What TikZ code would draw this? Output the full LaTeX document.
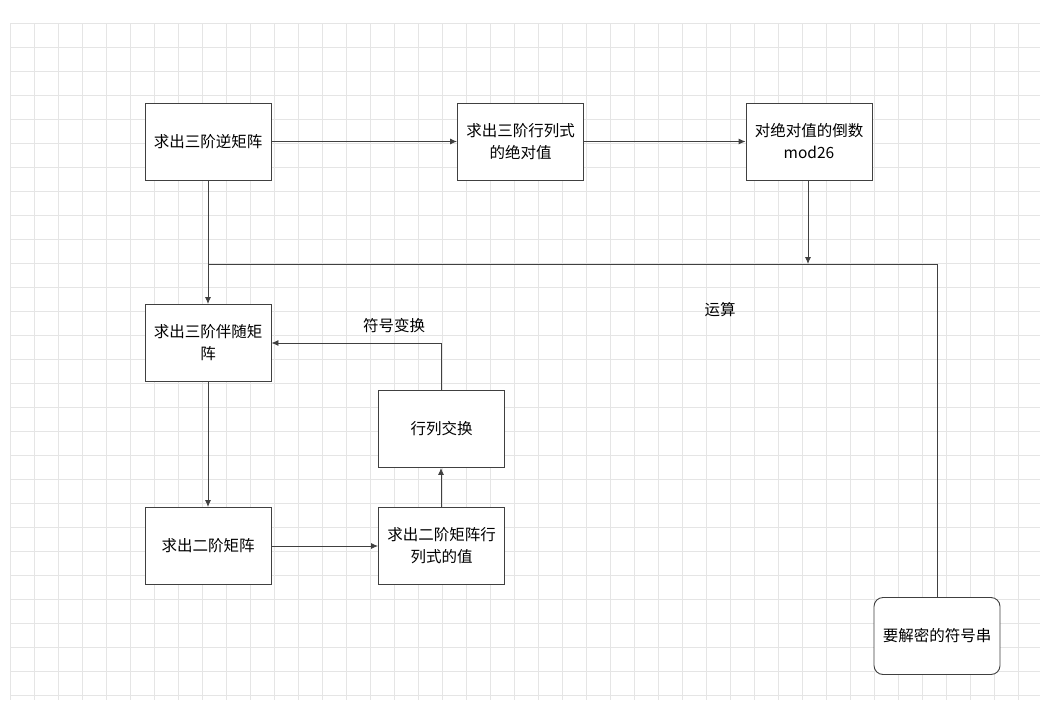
\documentclass[tikz,border=0pt]{standalone}
\usepackage{fontspec}
\setmainfont{Noto Sans CJK SC}
\usetikzlibrary{arrows.meta}
\begin{document}
\begin{tikzpicture}[x=1pt,y=-1pt,
  box/.style={draw=black!75,line width=0.9pt,fill=white,minimum width=126pt,minimum height=77pt,align=center,text width=124pt,font=\fontsize{15.5}{22}\selectfont,inner sep=0pt},
  ln/.style={draw=black!75,line width=0.9pt},
  arr/.style={ln,-{Latex[length=7pt,width=6pt]}},
  lbl/.style={font=\fontsize{15.5}{22}\selectfont}]
\useasboundingbox (0,0) rectangle (1044,712);
\fill[white] (0,0) rectangle (1044,712);
\foreach \x in {10,34,...,1040} \draw[black!10,line width=0.7pt] (\x,23) -- (\x,700);
\foreach \y in {23,47,...,700} \draw[black!10,line width=0.7pt] (10,\y) -- (1040,\y);
\node[box] (A) at (208,141.5) {求出三阶逆矩阵};
\node[box] (B) at (520.5,141.5) {求出三阶行列式\\的绝对值};
\node[box] (C) at (809,141.5) {对绝对值的倒数\\mod26};
\node[box] (D) at (208,343) {求出三阶伴随矩\\阵};
\node[box] (E) at (441.5,429) {行列交换};
\node[box] (F) at (208,546) {求出二阶矩阵};
\node[box] (G) at (441.5,546) {求出二阶矩阵行\\列式的值};
\node[box,rounded corners=9pt] (H) at (937,636) {要解密的符号串};
\coordinate (J) at (208,264);
\coordinate (K) at (808,264);
\coordinate (T) at (441,343);
\draw[arr] (A) -- (B);
\draw[arr] (B) -- (C);
\draw[arr] (A) -- (D);
\draw[ln] (H.north) |- (J);
\draw[arr] (C.south -| K) -- (K);
\draw[arr] (D) -- (F);
\draw[arr] (F) -- (G);
\draw[arr] (G.north -| T) -- (E.south -| T);
\draw[arr] (E.north -| T) -- (T) -- (D.east |- T);
\node[lbl] (L1) at (394,326) {符号变换};
\node[lbl] (L2) at (720,310) {运算};
\end{tikzpicture}
\end{document}
